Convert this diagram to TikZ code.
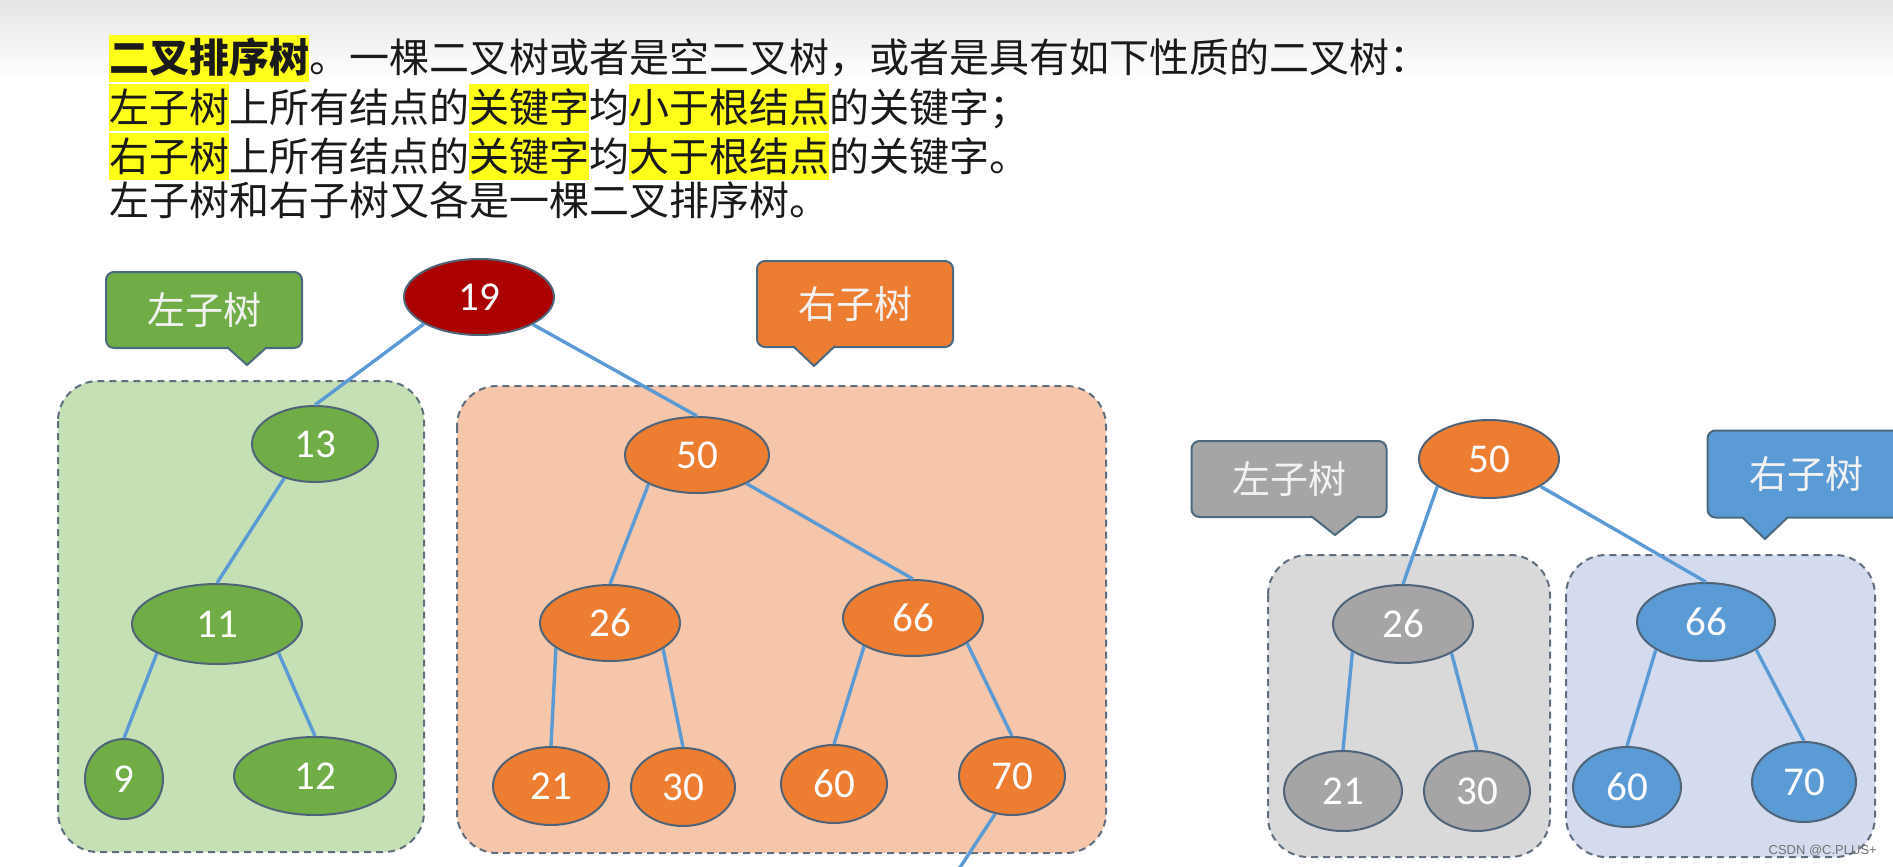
\documentclass[tikz,border=0pt]{standalone}
\usepackage{fontspec}
\usetikzlibrary{shapes.geometric}
\newfontfamily\cjk{Noto Sans CJK SC}
\newfontfamily\numf{Carlito}
\newfontfamily\wmf{Liberation Sans}
\definecolor{hlyellow}{HTML}{FFFF1A}
\definecolor{eblue}{HTML}{5B9BD5}
\definecolor{nborder}{HTML}{4F6479}
\definecolor{cborder}{HTML}{4B6A80}
\definecolor{dborder}{HTML}{5F6F80}
\definecolor{callouttext}{HTML}{F2F2F2}
\definecolor{cred}{HTML}{AA0000}
\definecolor{cgreen}{HTML}{70AD47}
\definecolor{corange}{HTML}{ED7D31}
\definecolor{cgrey}{HTML}{A5A5A5}
\definecolor{cblue}{HTML}{5B9BD5}
\definecolor{rgreen}{HTML}{C5E0B4}
\definecolor{rorange}{HTML}{F5C6AA}
\definecolor{rgrey}{HTML}{D9D9D9}
\definecolor{rblue}{HTML}{D4DBEF}
\definecolor{textc}{HTML}{1A1A1A}
\newcommand\hlt[1]{{\setlength{\fboxsep}{0pt}\colorbox{hlyellow}{\rule[-0.22em]{0pt}{1.17em}#1}}}
\newcommand\calloutptr[5]{%
  \fill[#1] ({#2-#5},{#4-2}) -- ({#2+#5},{#4-2}) -- (#2,#3) -- cycle;
  \draw[cptr] ({#2-#5},{#4-1}) -- (#2,#3) -- ({#2+#5},{#4-1});
}
\begin{document}
\begin{tikzpicture}[x=1pt,y=-1pt,
  edge/.style={draw=eblue, line width=3.4pt},
  tn/.style={ellipse, draw=nborder, line width=2pt, inner sep=0pt, text=white, font=\numf\fontsize{41}{41}\selectfont},
  region/.style={draw=dborder, line width=2pt, dash pattern=on 7pt off 5pt, rounded corners=40pt},
  cbox/.style={rectangle, rounded corners=8pt, draw=cborder, line width=2pt, inner sep=0pt, text=callouttext, font=\cjk\fontsize{38}{38}\selectfont},
  cptr/.style={draw=cborder, line width=2pt, line join=miter},
  txt/.style={anchor=base west, inner sep=0pt, text=textc, font=\cjk\fontsize{40}{48}\selectfont}
]
\useasboundingbox (0,0) rectangle (1893,867);
\clip (0,0) rectangle (1893,867);
\fill[white] (0,0) rectangle (1893,867);
\shade[top color=black!10, bottom color=white] (0,0) rectangle (1893,80);

% heading text
\node[txt] (t1) at (109,73) {\hlt{\bfseries 二叉排序树}。一棵二叉树或者是空二叉树，或者是具有如下性质的二叉树：};
\node[txt] (t2) at (109,122) {\hlt{左子树}上所有结点的\hlt{关键字}均\hlt{小于根结点}的关键字；};
\node[txt] (t3) at (109,171) {\hlt{右子树}上所有结点的\hlt{关键字}均\hlt{大于根结点}的关键字。};
\node[txt] (t4) at (109,215) {左子树和右子树又各是一棵二叉排序树。};

% regions
\draw[region, fill=rgreen] (58,381) rectangle (424,852);
\draw[region, fill=rorange] (457,386) rectangle (1106,853);
\draw[region, fill=rgrey] (1268,555) rectangle (1550,857);
\draw[region, fill=rblue] (1566,555) rectangle (1875,857);

% left tree nodes
\node[tn, fill=cred, minimum width=150pt, minimum height=76pt] (a19) at (479,297) {19};
\node[tn, fill=cgreen, minimum width=126pt, minimum height=76pt] (a13) at (315,444) {13};
\node[tn, fill=cgreen, minimum width=170pt, minimum height=80pt] (a11) at (217,624) {11};
\node[tn, fill=cgreen, minimum width=78pt, minimum height=80pt] (a9) at (124,779) {9};
\node[tn, fill=cgreen, minimum width=162pt, minimum height=78pt] (a12) at (315,776) {12};
\node[tn, fill=corange, minimum width=144pt, minimum height=76pt] (a50) at (697,455) {50};
\node[tn, fill=corange, minimum width=140pt, minimum height=76pt] (a26) at (610,623) {26};
\node[tn, fill=corange, minimum width=140pt, minimum height=76pt] (a66) at (913,618) {66};
\node[tn, fill=corange, minimum width=116pt, minimum height=78pt] (a21) at (551,786) {21};
\node[tn, fill=corange, minimum width=104pt, minimum height=78pt] (a30) at (683,787) {30};
\node[tn, fill=corange, minimum width=106pt, minimum height=78pt] (a60) at (834,784) {60};
\node[tn, fill=corange, minimum width=106pt, minimum height=78pt] (a70) at (1012,776) {70};
\coordinate (off) at (955,875);

% right tree nodes
\node[tn, fill=corange, minimum width=140pt, minimum height=78pt] (b50) at (1489,459) {50};
\node[tn, fill=cgrey, minimum width=140pt, minimum height=78pt] (b26) at (1403,624) {26};
\node[tn, fill=cgrey, minimum width=118pt, minimum height=80pt] (b21) at (1343,791) {21};
\node[tn, fill=cgrey, minimum width=106pt, minimum height=80pt] (b30) at (1477,791) {30};
\node[tn, fill=cblue, minimum width=138pt, minimum height=78pt] (b66) at (1706,622) {66};
\node[tn, fill=cblue, minimum width=108pt, minimum height=80pt] (b60) at (1627,787) {60};
\node[tn, fill=cblue, minimum width=104pt, minimum height=80pt] (b70) at (1804,782) {70};

% edges
\draw[edge] (a19.206) -- (a13.north);
\draw[edge] (a19.333) -- (a50.north);
\draw[edge] (a13.228) -- (a11.north);
\draw[edge] (a11.206) -- (a9.north);
\draw[edge] (a11.335) -- (a12.north);
\draw[edge] (a50.211) -- (a26.north);
\draw[edge] (a50.330) -- (a66.north);
\draw[edge] (a26.205) -- (a21.north);
\draw[edge] (a26.334) -- (a30.north);
\draw[edge] (a66.210) -- (a60.north);
\draw[edge] (a66.335) -- (a70.north);
\draw[edge] (a70.246) -- (off);
\draw[edge] (b50.208) -- (b26.north);
\draw[edge] (b50.332) -- (b66.north);
\draw[edge] (b26.209) -- (b21.north);
\draw[edge] (b26.329) -- (b30.north);
\draw[edge] (b66.209) -- (b60.north);
\draw[edge] (b66.331) -- (b70.north);

% callouts
\node[cbox, fill=cgreen, minimum width=196pt, minimum height=76pt] (c1) at (204,310) {左子树};
\calloutptr{cgreen}{247}{365}{348}{20}
\node[cbox, fill=corange, minimum width=196pt, minimum height=86pt] (c2) at (855,304) {右子树};
\calloutptr{corange}{814}{366}{347}{21}
\node[cbox, fill=cgrey, minimum width=195pt, minimum height=76pt] (c3) at (1289,479) {左子树};
\calloutptr{cgrey}{1335}{535}{517}{24}
\node[cbox, fill=cblue, minimum width=197pt, minimum height=87pt] (c4) at (1806,474) {右子树};
\calloutptr{cblue}{1765}{539}{518}{23}

% watermark
\node[anchor=east, inner sep=0pt, text=black!55, font=\wmf\fontsize{13}{13}\selectfont] (wm) at (1877,851) {CSDN @C.PLUS+};
\end{tikzpicture}
\end{document}
